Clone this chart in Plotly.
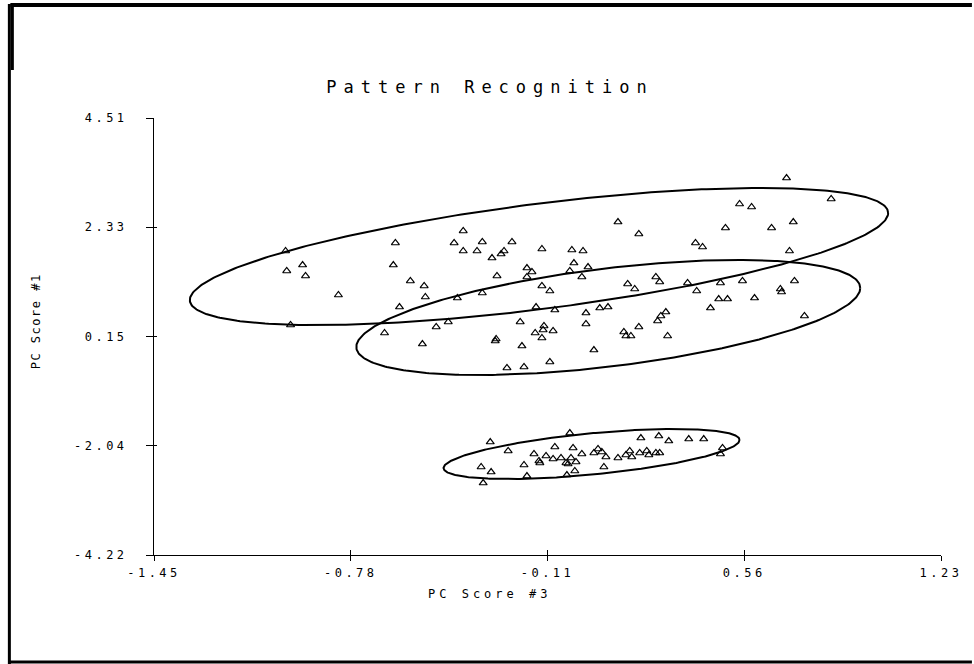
import numpy as np
import plotly.graph_objects as go

# ---------------- data ----------------
# Group 1 (upper ellipse)
g1_x = [-1.002, -0.998, -0.944, -0.934, -0.822, -0.985, -0.628, -0.635, -0.577, -0.530,
        -0.526, -0.397, -0.428, -0.332, -0.231, -0.397, -0.350, -0.258, -0.268, -0.299,
        -0.129, -0.027, 0.011, -0.020, -0.034, 0.028, -0.180, -0.163, -0.180, -0.282,
        0.007, 0.130, 0.201, 0.704, 0.856, 0.544, 0.585, 0.727, 0.496, 0.653,
        0.394, 0.418, 0.714]
g1_y = [1.853, 1.454, 1.573, 1.354, 0.974, 0.375, 2.013, 1.573, 1.254, 1.154,
        0.934, 2.253, 2.013, 2.033, 2.033, 1.853, 1.853, 1.853, 1.793, 1.713,
        1.893, 1.873, 1.853, 1.613, 1.454, 1.533, 1.513, 1.434, 1.334, 1.354,
        1.334, 2.432, 2.193, 3.311, 2.892, 2.792, 2.732, 2.432, 2.313, 2.313,
        2.013, 1.933, 1.853]

# Group 2 (middle ellipse)
g2_x = [-0.614, -0.665, -0.489, -0.417, -0.332, -0.129, -0.102, -0.149, -0.085, 0.021,
        0.021, 0.068, 0.096, 0.163, 0.187, 0.259, 0.272, 0.293, 0.276, 0.265,
        0.201, 0.150, 0.157, 0.174, 0.299, -0.448, -0.203, -0.122, -0.125, -0.152,
        -0.091, -0.129, -0.285, -0.536, -0.288, -0.197, 0.048, -0.102, -0.248, -0.190,
        0.367, 0.398, 0.479, 0.554, 0.731, 0.683, 0.687, 0.473, 0.503, 0.595,
        0.445, 0.765]
g2_y = [0.734, 0.215, 0.335, 0.914, 1.014, 1.154, 1.054, 0.734, 0.674, 0.614,
        0.395, 0.714, 0.734, 1.194, 1.094, 1.334, 1.234, 0.634, 0.555, 0.455,
        0.335, 0.235, 0.155, 0.155, 0.155, 0.435, 0.435, 0.355, 0.275, 0.215,
        0.255, 0.115, 0.095, -0.005, 0.055, -0.045, -0.125, -0.364, -0.484, -0.464,
        1.214, 1.054, 1.214, 1.254, 1.254, 1.094, 1.034, 0.894, 0.894, 0.914,
        0.714, 0.555]

# Group 3 (lower ellipse)
g3_x = [-0.034, -0.305, -0.244, -0.085, -0.023, -0.156, -0.115, 0.007, -0.139, -0.136,
        -0.091, -0.064, -0.030, -0.047, -0.040, -0.013, -0.190, -0.336, -0.302, -0.017,
        -0.180, -0.044, -0.329, 0.208, 0.269, 0.303, 0.371, 0.422, 0.486, 0.479,
        0.048, 0.062, 0.075, 0.089, 0.130, 0.157, 0.170, 0.177, 0.204, 0.228,
        0.235, 0.259, 0.272, 0.082]
g3_y = [-1.783, -1.963, -2.142, -2.062, -2.082, -2.202, -2.242, -2.202, -2.342, -2.382,
        -2.302, -2.282, -2.282, -2.382, -2.402, -2.362, -2.422, -2.462, -2.562, -2.542,
        -2.642, -2.622, -2.782, -1.883, -1.843, -1.943, -1.903, -1.903, -2.082, -2.202,
        -2.182, -2.102, -2.162, -2.262, -2.282, -2.222, -2.142, -2.262, -2.182, -2.142,
        -2.222, -2.182, -2.182, -2.462]

# Confidence ellipses: centre, half-vector to extreme x point, vertical half-chord
ell_cx = [-0.139, 0.097, 0.040]
ell_cy = [1.743, 0.525, -2.202]
ell_px = [1.189, 0.858, 0.504]
ell_py = [0.869, 0.589, 0.280]
ell_h = [1.059, 0.987, 0.414]

x_range = [-1.45, 1.23]
y_range = [-4.22, 4.51]
x_ticktext = ["-1.45", "-0.78", "-0.11", "0.56", "1.23"]
y_ticktext = ["-4.22", "-2.04", "0.15", "2.33", "4.51"]

# ---------------- figure ----------------
W, H = 974, 664
L, R, T, B = 154, 31, 118, 109
PW, PH = W - L - R, H - T - B


def px(x):
    return (x - L) / PW


def py(y):
    return (H - B - y) / PH


FONT = "DejaVu Sans Mono"


def spaced(s, sp):
    return '<span style="letter-spacing:%spx">%s</span>' % (sp, s)


fig = go.Figure()

t = np.linspace(0, 2 * np.pi, 400)
for cx, cy, ex, ey, hh in zip(ell_cx, ell_cy, ell_px, ell_py, ell_h):
    fig.add_trace(go.Scatter(
        x=cx + ex * np.cos(t), y=cy + ey * np.cos(t) + hh * np.sin(t),
        mode="lines", line=dict(color="black", width=2),
        xaxis="x2", yaxis="y2", hoverinfo="skip", showlegend=False))

for gx, gy in [(g1_x, g1_y), (g2_x, g2_y), (g3_x, g3_y)]:
    fig.add_trace(go.Scatter(
        x=gx, y=gy, mode="markers",
        marker=dict(symbol="triangle-up-open", size=7, color="black",
                    line=dict(color="black", width=1.2)),
        showlegend=False))

xt = list(np.linspace(x_range[0], x_range[1], len(x_ticktext)))
yt = list(np.linspace(y_range[0], y_range[1], len(y_ticktext)))

tickfont = dict(family=FONT, size=12, color="black")

fig.update_layout(
    width=W, height=H,
    margin=dict(l=L, r=R, t=T, b=B),
    paper_bgcolor="white", plot_bgcolor="white",
    showlegend=False,
    title=dict(text=spaced("Pattern Recognition", 7), xref="container", yref="container",
               x=490 / W, y=1 - 87 / H, xanchor="center", yanchor="middle",
               font=dict(family=FONT, size=17, color="black")),
    xaxis=dict(range=x_range, showgrid=False, zeroline=False, showline=True,
               linecolor="black", linewidth=1, ticks="outside", ticklen=5,
               tickcolor="black", tickwidth=1, tickmode="array", tickvals=xt,
               ticktext=[spaced(s, 3.5) for s in x_ticktext], tickfont=tickfont,
               ticklabelstandoff=2, fixedrange=True),
    yaxis=dict(range=y_range, showgrid=False, zeroline=False, showline=True,
               linecolor="black", linewidth=1, ticks="outside", ticklen=7,
               tickcolor="black", tickwidth=1, tickmode="array", tickvals=yt,
               ticktext=[spaced(s, 3.5) for s in y_ticktext], tickfont=tickfont,
               ticklabelstandoff=16, fixedrange=True),
    xaxis2=dict(range=x_range, overlaying="x", anchor="y2", showgrid=False,
                zeroline=False, showline=False, ticks="inside", ticklen=5,
                tickcolor="black", tickwidth=1, tickmode="array", tickvals=xt,
                showticklabels=False, fixedrange=True),
    yaxis2=dict(range=y_range, overlaying="y", anchor="x2", showgrid=False,
                zeroline=False, showline=False, ticks="inside", ticklen=3,
                tickcolor="black", tickwidth=1, tickmode="array", tickvals=yt,
                showticklabels=False, fixedrange=True),
)

fig.add_annotation(text=spaced("PC Score #3", 4), xref="paper", yref="paper",
                   x=px(490), y=py(594), xanchor="center", yanchor="middle",
                   showarrow=False, font=dict(family=FONT, size=12, color="black"))
fig.add_annotation(text=spaced("PC Score #1", 1.5), xref="paper", yref="paper",
                   x=px(36), y=py(321), xanchor="center", yanchor="middle",
                   textangle=-90, showarrow=False,
                   font=dict(family=FONT, size=12, color="black"))

# page frame
frame = [((10, 5), (974, 5), 4), ((9, 4), (9, 664), 3), ((12, 4), (12, 70), 3),
         ((9, 662), (974, 662), 3)]
for (x0, y0), (x1, y1), w in frame:
    fig.add_shape(type="line", xref="paper", yref="paper",
                  x0=px(x0), y0=py(y0), x1=px(x1), y1=py(y1),
                  line=dict(color="black", width=w))

fig.write_html("out.html")
